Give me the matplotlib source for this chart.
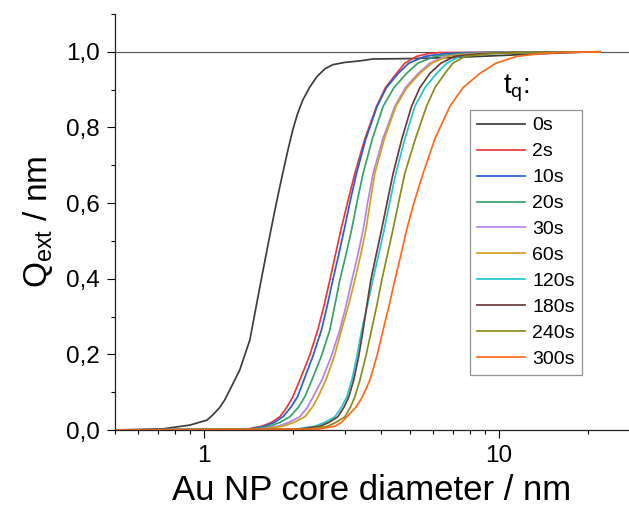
import matplotlib
matplotlib.use("Agg")
import matplotlib.pyplot as plt
from matplotlib.ticker import FixedLocator, FuncFormatter, NullFormatter, MultipleLocator, LogLocator

plt.rcParams['font.family'] = ['Liberation Sans', 'DejaVu Sans']
plt.rcParams['mathtext.fontset'] = 'custom'
plt.rcParams['mathtext.rm'] = 'Liberation Sans'
plt.rcParams['mathtext.it'] = 'Liberation Sans:italic'

# --- data (diameter in nm, cumulative Q_ext) ---
labels = ["0s", "2s", "10s", "20s", "30s", "60s", "120s", "180s", "240s", "300s"]
colors = ["#3d3d3d", "#e8383d", "#2a5fcf", "#35a268", "#b583e8", "#d1a01c",
          "#22c8cf", "#6b3a3a", "#8b8b1a", "#ff6a1a"]

# 0s curve has its own shape (plateau near 0.98)
d_0s = [0.5, 0.726, 0.897, 1.024, 1.073, 1.133, 1.178, 1.225, 1.324, 1.432, 1.548, 1.674,
        1.761, 1.852, 1.927, 2.003, 2.075, 2.166, 2.279, 2.415, 2.572, 2.736, 3.006, 3.378,
        3.736, 4.874, 7.0, 10.0, 14.0, 20.35]
q_0s = [0.0, 0.003, 0.013, 0.026, 0.04, 0.06, 0.08, 0.106, 0.159, 0.238, 0.378, 0.515,
        0.6, 0.68, 0.74, 0.794, 0.835, 0.873, 0.905, 0.934, 0.955, 0.966, 0.972, 0.976,
        0.981, 0.982, 0.985, 0.99, 0.995, 1.0]

# the other curves share these Q levels
q_levels = [0.0, 0.002, 0.01, 0.02, 0.035, 0.06, 0.088, 0.132, 0.195, 0.265, 0.33, 0.397,
            0.463, 0.529, 0.605, 0.679, 0.77, 0.856, 0.905, 0.943, 0.97, 0.988, 0.995, 0.998, 1.0]
d_2s = [0.5, 1.39, 1.573, 1.694, 1.810, 1.911, 2.003, 2.115, 2.279, 2.434, 2.557, 2.674, 2.791,
        2.914, 3.077, 3.250, 3.514, 3.849, 4.124, 4.500, 4.801, 5.261, 5.744, 6.31, 22.0]
d_10s = [0.5, 1.42, 1.610, 1.734, 1.853, 1.972, 2.078, 2.183, 2.342, 2.506, 2.622, 2.737, 2.864,
         2.989, 3.133, 3.293, 3.541, 3.867, 4.156, 4.557, 4.953, 5.612, 6.561, 7.975, 22.0]
d_20s = [0.5, 1.46, 1.674, 1.810, 1.956, 2.091, 2.200, 2.323, 2.502, 2.674, 2.780, 2.891, 3.030,
         3.167, 3.309, 3.467, 3.726, 4.052, 4.406, 4.865, 5.314, 6.068, 7.376, 9.322, 22.0]
d_30s = [0.5, 1.53, 1.782, 1.941, 2.115, 2.243, 2.347, 2.512, 2.705, 2.891, 3.037, 3.175, 3.327,
         3.467, 3.597, 3.749, 4.043, 4.441, 4.820, 5.326, 5.835, 6.561, 7.975, 10.08, 22.0]
d_60s = [0.5, 1.58, 1.853, 2.019, 2.200, 2.332, 2.440, 2.592, 2.769, 2.929, 3.094, 3.250, 3.401,
         3.541, 3.668, 3.799, 4.091, 4.476, 4.877, 5.397, 5.928, 6.717, 8.292, 10.90, 22.0]
d_120s = [0.5, 2.03, 2.378, 2.572, 2.780, 2.925, 3.053, 3.175, 3.302, 3.430, 3.583, 3.740, 3.910,
          4.084, 4.271, 4.476, 4.801, 5.192, 5.612, 6.149, 6.665, 7.376, 8.966, 11.78, 22.0]
d_180s = [0.5, 2.11, 2.473, 2.653, 2.846, 2.983, 3.101, 3.220, 3.349, 3.467, 3.569, 3.682, 3.837,
          4.002, 4.188, 4.382, 4.691, 5.059, 5.397, 5.835, 6.361, 7.094, 8.624, 11.33, 22.0]
d_240s = [0.5, 2.25, 2.633, 2.802, 3.006, 3.138, 3.250, 3.380, 3.541, 3.702, 3.859, 4.011, 4.188,
          4.372, 4.581, 4.801, 5.212, 5.686, 6.068, 6.561, 6.984, 7.669, 9.322, 12.74, 22.0]
d_300s = [0.5, 2.44, 2.780, 2.925, 3.053, 3.276, 3.450, 3.653, 3.859, 4.052, 4.248, 4.441, 4.654,
          4.865, 5.172, 5.538, 6.068, 6.823, 7.551, 8.624, 9.768, 11.51, 13.77, 16.10, 22.0]

curves = [(d_0s, q_0s), (d_2s, q_levels), (d_10s, q_levels), (d_20s, q_levels),
          (d_30s, q_levels), (d_60s, q_levels), (d_120s, q_levels), (d_180s, q_levels),
          (d_240s, q_levels), (d_300s, q_levels)]

W, H = 629, 511
fig = plt.figure(figsize=(W / 100, H / 100), dpi=100)
ax = fig.add_axes([115 / W, 81 / H, 1 - 115 / W, 416 / H])

ax.axhline(1.0, color="#555555", lw=0.8, zorder=1)
for (d, q), lab, c in zip(curves, labels, colors):
    ax.plot(d, q, color=c, lw=1.25, label=lab, zorder=2)

ax.set_xscale("log")
ax.set_xlim(0.5, 27.6)
ax.set_ylim(0, 1.1)

ax.xaxis.set_major_locator(FixedLocator([1, 10]))
ax.xaxis.set_major_formatter(FuncFormatter(lambda v, p: f"{v:g}"))
ax.xaxis.set_minor_locator(LogLocator(base=10, subs=range(2, 10), numticks=20))
ax.xaxis.set_minor_formatter(NullFormatter())
ax.yaxis.set_major_locator(MultipleLocator(0.2))
ax.yaxis.set_minor_locator(MultipleLocator(0.1))
ax.yaxis.set_major_formatter(FuncFormatter(lambda v, p: f"{v:.1f}".replace(".", ",")))

for s in ["top", "right"]:
    ax.spines[s].set_visible(False)
for s in ["left", "bottom"]:
    ax.spines[s].set_linewidth(0.9)
    ax.spines[s].set_color("#222222")
ax.tick_params(which="major", direction="out", length=6, width=0.8, labelsize=17.5, pad=5)
ax.tick_params(which="minor", direction="out", length=3, width=0.8)

ax.set_xlabel("Au NP core diameter / nm", fontsize=25, labelpad=5)
ax.set_ylabel(r"$\mathregular{Q_{ext}}$ / nm", fontsize=24, labelpad=8)

leg = ax.legend(loc="upper left", bbox_to_anchor=(470 / W, 1 - 110 / H),
                bbox_transform=fig.transFigure, borderaxespad=0, fontsize=14,
                frameon=True, fancybox=False, edgecolor="#777777",
                handlelength=2.5, handletextpad=0.35, borderpad=0.35, labelspacing=0.43)
leg.get_frame().set_linewidth(0.9)
fig.text(503 / W, 1 - 88 / H, r"$\mathregular{t_q}$:", fontsize=20, va="center", ha="left")

fig.savefig("out.png", dpi=100)
